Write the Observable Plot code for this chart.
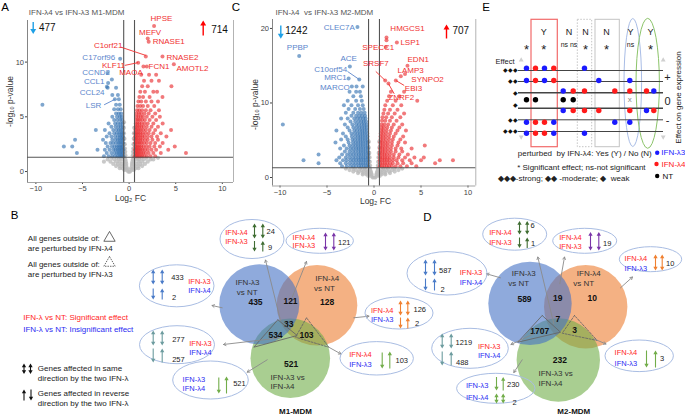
<!DOCTYPE html>
<html><head><meta charset="utf-8">
<script src="https://cdn.jsdelivr.net/npm/d3@7"></script>
<script src="https://cdn.jsdelivr.net/npm/@observablehq/plot@0.6"></script>
<style>
html,body{margin:0;padding:0;background:#fff;}
#wrap{position:relative;width:685px;height:415px;overflow:hidden;}
.layer{position:absolute;}
</style></head><body><div id="wrap"></div>
<script>
// ================= DATA =================
const xTicks = [-10, -5, 0, 5, 10];
const yTicksA = [0, 5, 10];
const yTicksC = [0, 10, 20];
const fcCut = 0.58, pCut = 1.3;
const countsA = [477, 714];
const countsC = [1242, 707];
const titles = ["IFN-λ4 vs IFN-λ3 M1-MDM", "IFN-λ4  vs IFN-λ3 M2-MDM"];

// volcano A: rows of [-log10 p, [log2FC ...]]
const grayA = [
[0.0,[-0.1,0.0,0.1]],[0.15,[-0.5,-0.25,0.25,0.5]],
[0.3,[-1.0,-0.7,-0.4,-0.2,0.2,0.4,0.7,1.0]],[0.5,[-1.4,-1.0,-0.6,-0.3,0.3,0.6,1.0,1.4]],
[0.7,[-1.7,-1.2,-0.8,-0.45,-0.3,0.3,0.45,0.8,1.2,1.7]],[0.9,[-2.7,-2.0,-1.4,-1.0,-0.5,-0.35,0.35,0.5,1.0,1.4,2.0]],
[1.1,[-2.3,-1.6,-1.1,-0.7,-0.4,0.4,0.7,1.1,1.6,2.3,2.6]],[1.25,[-1.9,-1.3,-0.9,-0.5,0.5,0.9,1.3,1.9,3.1]],
[1.5,[-0.5,-0.4,0.4,0.5]],[1.8,[-0.52,-0.42,0.42,0.52]],[2.1,[-0.55,-0.45,0.45,0.55]],
[2.5,[-0.55,-0.47,0.47,0.55]],[3.0,[-0.56,-0.5,0.5,0.56]],[3.5,[-0.55,0.52,0.56]],[4.0,[-0.56,0.55]],[4.5,[-0.55]]];
const blueA = [
[1.4,[-0.62,-0.75,-0.9,-1.05,-1.25,-1.5,-1.8,-2.2,-2.7]],
[1.7,[-0.65,-0.8,-0.95,-1.12,-1.3,-1.55,-1.9,-2.4,-5.6]],
[2.0,[-0.62,-0.78,-0.92,-1.08,-1.25,-1.45,-1.7,-2.1,-2.6,-3.39]],
[2.3,[-0.66,-0.8,-0.95,-1.12,-1.3,-1.55,-1.85,-2.3,-7.0,-6.1]],
[2.6,[-0.64,-0.8,-0.98,-1.15,-1.4,-1.7,-2.0,-2.5]],
[2.9,[-0.66,-0.82,-1.0,-1.2,-1.45,-1.8,-2.8,-5.8]],
[3.2,[-0.65,-0.8,-0.98,-1.2,-1.5,-1.9,-2.4]],
[3.5,[-0.68,-0.85,-1.05,-1.3,-1.6,-2.1]],
[3.8,[-0.7,-0.88,-1.1,-1.35,-1.7,-2.6,-3.57]],
[4.1,[-0.7,-0.9,-1.15,-1.45,-1.9]],[4.4,[-0.72,-0.92,-1.2,-1.5,-2.2]],
[4.7,[-0.75,-0.95,-1.25,-1.6]],[5.0,[-0.8,-1.0,-1.3,-1.8]],[5.3,[-0.85,-1.1,-1.4]],
[5.7,[-0.9,-1.2,-1.6]],[6.1,[-1.0,-1.4,-9.3]],[6.6,[-1.1,-1.53]],[7.0,[-1.2,-1.8]],
[7.65,[-2.3,-1.4]],[7.75,[-2.39]],[8.1,[-2.25]],[8.4,[-1.85]],[9.0,[-2.3]],[10.3,[-0.96]]];
const redA = [
[1.4,[0.62,0.75,0.9,1.05,1.2,1.4,1.6,1.9,2.3,2.8]],
[1.7,[0.65,0.8,0.95,1.1,1.3,1.5,1.75,2.1,2.6,3.4,6.1]],
[2.0,[0.62,0.78,0.92,1.08,1.25,1.45,1.7,2.0,2.4,2.9,4.2]],
[2.3,[0.66,0.8,0.95,1.12,1.3,1.55,1.85,2.2,2.7,3.3,4.9]],
[2.6,[0.64,0.8,0.98,1.15,1.35,1.6,1.9,2.3,2.8,3.6]],
[2.9,[0.66,0.82,1.0,1.2,1.4,1.7,2.0,2.5,3.1]],
[3.2,[0.65,0.8,0.98,1.18,1.4,1.65,2.0,2.4,3.0,4.0]],
[3.5,[0.68,0.85,1.02,1.22,1.45,1.75,2.1,2.6,3.4]],
[3.8,[0.68,0.85,1.05,1.25,1.5,1.8,2.2,2.8,4.5]],
[4.1,[0.7,0.88,1.08,1.3,1.55,1.9,2.4,3.1]],
[4.4,[0.72,0.9,1.1,1.35,1.65,2.0,2.6,3.6]],
[4.7,[0.75,0.95,1.15,1.4,1.7,2.2,2.9]],
[5.0,[0.78,1.0,1.25,1.5,1.9,2.5,3.3]],
[5.3,[0.8,1.05,1.3,1.65,2.1,2.8]],
[5.6,[0.85,1.1,1.4,1.8,2.3,3.2]],
[6.0,[0.9,1.2,1.5,2.0,2.7]],[6.4,[1.0,1.3,1.8,2.4,3.1]],[6.8,[1.1,1.5,2.2,3.58]],
[7.3,[1.2,1.7,2.6,3.0]],[7.8,[1.4,2.0,4.54]],[8.3,[1.6,2.4,3.2]],[8.85,[1.3,2.14,2.9]],
[9.6,[1.54,1.9]],[9.8,[4.8]],[9.95,[0.97]],[10.5,[1.79,3.58]],[11.85,[2.1]],[12.15,[2.0]],[13.3,[2.68]]];

// volcano C
const grayC = [
[0.0,[-0.15,0,0.15]],[0.2,[-0.6,-0.3,0.3,0.6]],
[0.4,[-1.2,-0.8,-0.45,-0.25,0.25,0.45,0.8,1.2]],
[0.6,[-1.7,-1.2,-0.8,-0.5,-0.3,0.3,0.5,0.8,1.2,1.7]],
[0.8,[-2.2,-1.6,-1.1,-0.7,-0.35,0.35,0.7,1.1,1.6,2.2]],
[1.0,[-2.6,-1.9,-1.3,-0.85,-0.4,0.4,0.85,1.3,1.9,2.6]],
[1.2,[-3.0,-2.2,-1.5,-1.0,-0.45,0.45,1.0,1.5,2.2,3.0]],
[1.6,[-0.5,-0.42,0.42,0.5]],[2.1,[-0.52,-0.44,0.44,0.52]],[2.7,[-0.54,-0.47,0.47,0.54]],
[3.3,[-0.55,-0.5,0.5,0.55]],[4.0,[-0.56,0.56]],[4.8,[-0.55,0.55]]];
const blueC = [
[1.5,[-0.62,-0.85,-1.1,-1.35,-1.6,-1.9,-2.2,-2.5,-2.9,-3.4]],
[1.9,[-0.65,-0.9,-1.15,-1.4,-1.65,-1.95,-2.25,-2.6,-3.0,-3.6,-5.9]],
[2.3,[-0.62,-0.88,-1.12,-1.38,-1.62,-1.9,-2.2,-2.5,-2.9,-3.3,-4.0,-7.5]],
[2.7,[-0.65,-0.9,-1.15,-1.4,-1.65,-1.95,-2.25,-2.6,-3.0,-3.7]],
[3.1,[-0.62,-0.88,-1.12,-1.38,-1.62,-1.9,-2.2,-2.5,-2.85,-3.4,-5.9]],
[3.5,[-0.65,-0.9,-1.15,-1.4,-1.65,-1.95,-2.25,-2.6,-3.1]],
[3.9,[-0.65,-0.9,-1.15,-1.4,-1.65,-1.9,-2.2,-2.5,-2.9,-3.6]],
[4.3,[-0.68,-0.92,-1.18,-1.42,-1.68,-1.95,-2.25,-2.6,-3.2]],
[4.7,[-0.68,-0.92,-1.18,-1.42,-1.68,-1.95,-2.25,-2.7,-4.1]],
[5.1,[-0.7,-0.95,-1.2,-1.45,-1.7,-2.0,-2.3,-2.8,-3.5]],
[5.5,[-0.7,-0.95,-1.2,-1.45,-1.7,-2.0,-2.35,-3.0]],
[5.9,[-0.72,-0.98,-1.22,-1.48,-1.75,-2.05,-2.4,-3.3]],
[6.3,[-0.75,-1.0,-1.25,-1.5,-1.8,-2.1,-2.6,-4.0]],
[6.7,[-0.78,-1.02,-1.28,-1.55,-1.85,-2.2,-2.8]],
[7.1,[-0.8,-1.05,-1.3,-1.6,-1.9,-2.3,-3.1,-9.7]],
[7.5,[-0.85,-1.1,-1.35,-1.65,-2.0,-2.5]],
[7.9,[-0.9,-1.15,-1.45,-1.75,-2.1,-2.8,-3.5]],
[8.3,[-0.95,-1.25,-1.55,-1.9,-2.4]],[8.7,[-1.0,-1.35,-1.7,-2.2,-3.0]],
[9.2,[-1.1,-1.5,-2.0,-2.7]],[9.7,[-1.2,-1.7,-2.4,-3.2]],[10.3,[-1.3,-1.9,-2.8]],
[10.9,[-1.4,-2.2]],[11.5,[-1.5,-1.9,-2.6]],[12.2,[-1.2,-1.86,-2.36]],
[13.15,[-1.57]],[13.3,[-2.7]],[14.9,[-2.57]],[16.3,[-7.96]],[20.2,[-1.76]]];
const redC = [
[1.5,[0.62,0.85,1.1,1.35,1.6,1.9,2.3,2.8,3.5,4.5]],
[1.9,[0.65,0.9,1.15,1.4,1.7,2.0,2.5,3.1,4.0,6.5]],
[2.3,[0.62,0.88,1.12,1.38,1.65,2.0,2.4,3.0,3.8,5.0,7.0,8.4]],
[2.7,[0.65,0.9,1.15,1.4,1.7,2.1,2.6,3.3,4.3,5.3]],
[3.1,[0.62,0.88,1.12,1.38,1.7,2.1,2.7,3.6]],
[3.5,[0.65,0.9,1.15,1.45,1.8,2.3,3.0]],
[3.9,[0.65,0.9,1.15,1.45,1.8,2.3,2.9,4.0]],
[4.3,[0.68,0.92,1.2,1.5,1.9,2.5,5.4]],
[4.7,[0.68,0.92,1.2,1.5,1.9,2.6,3.3]],
[5.1,[0.7,0.95,1.25,1.6,2.0,2.8]],[5.5,[0.7,0.95,1.25,1.6,2.1,3.1]],
[5.9,[0.72,0.98,1.3,1.7,2.3]],[6.3,[0.75,1.0,1.35,1.8,2.5,3.4]],
[6.7,[0.78,1.05,1.4,1.9,2.7]],[7.1,[0.8,1.1,1.5,2.1,3.0]],[7.6,[0.85,1.2,1.7,2.4]],
[8.1,[0.9,1.3,1.9,2.8]],[8.6,[1.0,1.5,2.2,3.2]],[9.1,[1.1,1.7,2.5]],[9.7,[1.2,2.0,2.9]],
[10.3,[1.4,2.3,4.6]],[10.9,[1.6,2.7]],[11.5,[1.8,3.2]],[12.6,[1.54]],[13.0,[1.19,2.32]],
[13.6,[2.85]],[13.9,[3.3]],[15.0,[3.56]],[17.5,[1.26]],[18.1,[2.43]],[18.4,[1.33]],[18.8,[1.33]]];

// labelled genes: [gene, log2FC, -log10 p]
const genesA_up = [["HPSE",2.68,13.3],["MEFV",2.0,12.15],["RNASE1",2.1,11.85],["C1orf21",1.79,10.6],["RNASE2",3.58,10.5],["KLF11",0.97,9.95],["FCN1",1.54,9.55],["MAOA",2.14,8.85],["AMOTL2",4.8,9.8]];
const genesA_down = [["C17orf96",-0.96,10.3],["CCND2",-2.3,9.0],["CCL1",-2.25,8.1],["CCL24",-2.3,7.65],["LSR",-1.53,6.6]];
const genesC_up = [["HMGCS1",1.33,18.8],["LSP1",2.43,18.1],["SPECC1",1.26,17.5],["EDN1",3.56,15.0],["SRSF7",1.19,13.0],["LAMP3",2.85,13.6],["SYNPO2",3.3,13.9],["EBI3",2.32,13.0],["ZNRF2",1.54,12.6]];
const genesC_down = [["CLEC7A",-1.76,20.2],["PPBP",-7.96,16.3],["ACE",-2.57,14.9],["C10orf54",-1.57,13.15],["MRC1",-2.7,13.3],["MARCO",-2.36,12.3]];

// Venn counts (λ3 vs NT only, λ3∩λ4 vs NT, λ4 vs NT only, all three, λ3 vs NT ∩ λ3 vs λ4, λ4 vs NT ∩ λ3 vs λ4, λ3 vs λ4 only)
const vennB_counts = [435, 121, 128, 33, 534, 103, 521];
const vennD_counts = [589, 19, 10, 7, 1707, 3, 232];
const vennNames = ["IFN-λ3 vs NT", "IFN-λ4 vs NT", "IFN-λ3 vs IFN-λ4"];
// callout counts (same-direction / reverse-direction)
const calloutB_counts = [[24, 9], [121], [433, 2], [277, 257], [521], [126, 2], [103]];
const calloutD_counts = [[6, 1], [19], [10], [587, 2], [1219, 488], [230, 2], [3]];

// Panel E schematic: [column, effect level, group]
const eLevels = [3, 2, 1, 0, -1, -2, -3];
const eDots = [
[0,3,"IFN-λ3"],[0,2,"IFN-λ3"],[0,0,"NT"],[0,-2,"IFN-λ3"],[0,-3,"IFN-λ3"],
[1,3,"IFN-λ4"],[1,2,"IFN-λ4"],[1,0,"NT"],[1,-2,"IFN-λ4"],[1,-3,"IFN-λ4"],
[2,3,"IFN-λ3"],[2,2,"IFN-λ3"],[2,-2,"IFN-λ4"],[2,-3,"IFN-λ4"],
[3,3,"IFN-λ4"],[3,2,"IFN-λ4"],[3,-2,"IFN-λ3"],[3,-3,"IFN-λ3"],
[4,1,"IFN-λ3"],[4,0,"NT"],[4,-1,"IFN-λ3"],
[5,1,"IFN-λ4"],[5,0,"NT"],[5,-1,"IFN-λ4"],
[6,3,"IFN-λ3"],[6,1,"IFN-λ4"],[6,-1,"IFN-λ4"],[6,-3,"IFN-λ3"],
[7,2,"IFN-λ3"],[7,-1,"IFN-λ4"],
[8,1,"IFN-λ4"],[8,-2,"IFN-λ3"],
[9,2,"IFN-λ3"],[9,1,"IFN-λ4"],[9,-1,"IFN-λ4"],[9,-2,"IFN-λ3"],
[10,1,"IFN-λ4"],[10,-1,"IFN-λ3"],
[11,1,"IFN-λ3"],[11,-1,"IFN-λ4"]];
const eNoEffect = [[9, 0, "x"]];
const eHeaders = [["*",""],["Y","*"],["N","ns ns"],["N","*"],["N","*"],["Y","ns"],["Y","*"]];
const eGroups = ["IFN-λ3", "IFN-λ4", "NT"];

// ================= LAYOUT & STYLE =================
const FONT = "Liberation Sans, Arial, sans-serif";
const RED = "#ff2626", BLUE = "#2b2bf2", GRED = "#f03030", GBLUE = "#5b86cc";
const DG = "#3f6d32", PU = "#7a35a8", BL = "#4a7bc8", TE = "#6d9c9f", GR = "#72ad4a", OR = "#f08030";
const groupColor = {"IFN-λ3": "#1a1aff", "IFN-λ4": "#ff1a1a", "NT": "#000"};

const flat = rows => rows.flatMap(([p, xs]) => xs.map(fc => ({fc, p})));

function volcano(cfg) {
  return Plot.plot({
    width: 240, height: 205,
    marginLeft: cfg.ml, marginRight: cfg.mr, marginTop: cfg.mt, marginBottom: cfg.mb,
    style: {fontFamily: FONT, fontSize: "7.5px", color: "#444", background: "transparent", overflow: "visible"},
    x: {domain: cfg.xDom, ticks: xTicks, tickSize: 2, tickPadding: 1.5, label: null},
    y: {domain: cfg.yDom, ticks: cfg.yTicks, tickSize: 2, tickPadding: 1.5, label: null},
    marks: [
      Plot.ruleX([cfg.xDom[0]], {stroke: "#777", strokeWidth: 0.9}),
      Plot.ruleX([cfg.xDom[1]], {stroke: "#aaa", strokeWidth: 0.9}),
      Plot.ruleY([cfg.yDom[0]], {stroke: "#999", strokeWidth: 0.9}),
      Plot.dot(flat(cfg.gray), {x: "fc", y: "p", r: 2.1, fill: "#bcbcbc", fillOpacity: 0.8}),
      Plot.dot(flat(cfg.blue), {x: "fc", y: "p", r: 2.0, fill: "#3070b0", fillOpacity: 0.62}),
      Plot.dot(flat(cfg.red), {x: "fc", y: "p", r: 2.0, fill: "#e8262a", fillOpacity: 0.62}),
      Plot.ruleX([-fcCut, fcCut], {stroke: "#555", strokeWidth: 1.1}),
      Plot.ruleY([pCut], {stroke: "#555", strokeWidth: 1.1}),
      Plot.link(cfg.links, {x1: d => d[0], y1: d => d[1], x2: d => d[2], y2: d => d[3], stroke: d => d[4], strokeWidth: 0.9}),
      Plot.text(cfg.up, {x: (d, i) => cfg.upPos[i][0], y: (d, i) => cfg.upPos[i][1], text: d => d[0], fill: GRED, fontSize: 8}),
      Plot.text(cfg.down, {x: (d, i) => cfg.downPos[i][0], y: (d, i) => cfg.downPos[i][1], text: d => d[0], fill: GBLUE, fontSize: 8})
    ]
  });
}

const volA = volcano({
  ml: 27, mr: 7, mt: 20, mb: 23, xDom: [-10.9, 11.2], yDom: [-1.0, 13.8], yTicks: yTicksA,
  gray: grayA, blue: blueA, red: redA, up: genesA_up, down: genesA_down,
  upPos: [[3.47,13.97],[2.25,12.75],[4.25,11.9],[-2.25,11.5],[5.72,10.46],[-1.68,9.7],[3.2,9.64],[0.2,9.03],[6.8,9.4]],
  downPos: [[-3.25,10.46],[-3.54,9.03],[-3.75,8.23],[-3.97,7.26],[-3.82,6.04]],
  links: [[-0.89,11.37,1.79,10.61,GRED],[-0.46,9.7,0.96,9.95,GRED],[-2.68,6.1,-1.53,6.59,GBLUE]]
});
const volC = volcano({
  ml: 27, mr: 9.7, mt: 19, mb: 19.5, xDom: [-10.8, 10.83], yDom: [-1.14, 21.2], yTicks: yTicksC,
  gray: grayC, blue: blueC, red: redC, up: genesC_up, down: genesC_down,
  upPos: [[3.56,20.0],[3.85,18.1],[0.45,17.4],[4.7,15.9],[0.2,15.3],[3.9,14.3],[5.7,13.2],[4.2,11.9],[2.9,10.7]],
  downPos: [[-3.7,20.2],[-8.14,17.5],[-2.7,16.0],[-4.6,14.5],[-4.1,13.4],[-4.17,12.1]],
  links: [[-2.82,14.23,-1.57,13.15,GBLUE],[0.19,14.23,1.19,13.02,GRED],[3.21,12.35,2.32,13.02,GRED],[2.15,11.23,1.54,12.58,GRED]]
});

// ---- overlay layout (pixel space) ----
const eColX = [526,535,544,553.3,562.7,572.7,584,598.3,614.3,629.3,646,653.3];
const eHeadX = [526,543.3,568.5,585,606,630,650];
const eLevelY = [67.7,80,90.5,99.3,110,121.7,132.7];
const eLineY = [70,81,92.3,107.7,119.3,131];
const eLineW = [1,1,1.6,1.6,1,1];

const vennB = [{cx:317,cy:305.3,r:40.3,c:"#ed7d31"},{cx:290.3,cy:358.3,r:39.8,c:"#70ad47"},{cx:259.3,cy:304.3,r:40,c:"#4472c4"}];
const vennD = [{cx:585.7,cy:306.7,r:41.7,c:"#ed7d31"},{cx:558.3,cy:360,r:41.7,c:"#70ad47"},{cx:530,cy:303.4,r:41.7,c:"#4472c4"}];
const vennB_pos = [[255,301.7],[290,300.7],[326.7,301.7],[288.3,323.3],[275,335],[306,335],[290.7,363.3]];
const vennD_pos = [[524,298.3],[557.3,297.3],[591.7,297.3],[557.3,318.3],[539.3,330.7],[574,329.3],[559.3,359.3]];
const vennB_namePos = [[[247,281.7],[246.7,291.7]],[[326.7,278.3],[324,288.3]],[[270,376.7],[270,386]]];
const vennD_namePos = [[[523.3,273.3],[518.3,283.3]],[[588.3,272.7],[583.3,283.3]],[[538,373.3],[538,382.7]]];

const calloutsB = [
 {cx:252,cy:239,rx:32,ry:19.5, labels:[[236,232.3,"IFN-λ4",RED],[236,240.7,"IFN-λ3",RED]], nums:[[266,230.7],[267.5,246.7]],
  glyphs:[[254,223,238,"both",DG],[262.3,223,238,"both",DG],[254,240.5,251,"down",DG],[262.3,240.5,251,"up",DG]]},
 {cx:319.7,cy:240.8,rx:33.7,ry:12.5, labels:[[303.3,236.8,"IFN-λ4",RED],[303.3,245.5,"IFN-λ3",RED]], nums:[[337.5,242.5]],
  glyphs:[[325,232,250,"both",PU],[333.3,232,250,"both",PU]]},
 {cx:176.7,cy:285.8,rx:37.3,ry:21, labels:[[199,280.7,"IFN-λ3",RED],[199,290,"IFN-λ4",BLUE]], nums:[[170.7,277.3],[171.5,297.3]],
  glyphs:[[152.7,269,284,"both",BL],[161.7,269,284,"both",BL],[152.7,288,299,"down",BL],[161.7,288,299,"up",BL]]},
 {cx:177,cy:344.7,rx:37.5,ry:19, labels:[[200,343.3,"IFN-λ3",RED],[200,352.3,"IFN-λ4",BLUE]], nums:[[171.7,339.3],[171.7,359.3]],
  glyphs:[[152.7,330,345,"both",TE],[161.7,330,345,"both",TE],[152.7,348,362,"down",TE],[161.7,348,362,"up",TE]]},
 {cx:210.5,cy:380,rx:37.8,ry:19, labels:[[193.3,379,"IFN-λ3",BLUE],[193.3,388.3,"IFN-λ4",BLUE]], nums:[[232.7,383.3]],
  glyphs:[[218.3,377,393,"down",GR],[226,376,393,"up",GR]]},
 {cx:399,cy:313,rx:34,ry:16, labels:[[381.7,310.5,"IFN-λ4",RED],[381.7,319.5,"IFN-λ3",BLUE]], nums:[[413,309.5],[414.5,323.5]],
  glyphs:[[400,300,315,"both",OR],[407.3,300,315,"both",OR],[400,317,328,"down",OR],[407.3,317,328,"up",OR]]},
 {cx:376.7,cy:358.3,rx:36.7,ry:16.7, labels:[[360,354,"IFN-λ4",RED],[360,364,"IFN-λ3",BLUE]], nums:[[395,360]],
  glyphs:[[381.7,352,368,"down",GR],[389.3,351,368,"up",GR]]}];
const calloutsD = [
 {cx:514.7,cy:234.2,rx:32,ry:16, labels:[[500,231.7,"IFN-λ4",RED],[500,241.7,"IFN-λ3",RED]], nums:[[530,225.5],[530.5,243]],
  glyphs:[[519,220.5,234,"both",DG],[526.7,220.5,234,"both",DG],[519,237,247.5,"down",DG],[526.7,237,247.5,"up",DG]]},
 {cx:584.7,cy:240.8,rx:32,ry:12.5, labels:[[570,236.7,"IFN-λ4",RED],[570,246.2,"IFN-λ3",RED]], nums:[[602.5,242.7]],
  glyphs:[[590,231.5,250,"both",PU],[598.3,231.5,250,"both",PU]]},
 {cx:650.5,cy:259.2,rx:31.2,ry:12.5, labels:[[635.3,258.3,"IFN-λ4",RED],[635.3,268,"IFN-λ3",BLUE]], nums:[[665.5,262.7]],
  glyphs:[[655,254,270,"both",OR],[661.7,254,270,"both",OR]]},
 {cx:447,cy:273.3,rx:40,ry:21.7, labels:[[470.5,271.7,"IFN-λ3",RED],[470.5,281.7,"IFN-λ4",BLUE]], nums:[[438.5,270],[440,289.3]],
  glyphs:[[425,259,275,"both",BL],[434,259,275,"both",BL],[425,278,290,"down",BL],[434,278,290,"up",BL]]},
 {cx:470,cy:348.3,rx:38.3,ry:20, labels:[[488.7,346,"IFN-λ3",RED],[488.7,355,"IFN-λ4",BLUE]], nums:[[455,341.7],[455.5,361.7]],
  glyphs:[[441.7,333,348,"both",TE],[450.7,333,348,"both",TE],[441.7,351,365,"down",TE],[450.7,351,365,"up",TE]]},
 {cx:495.8,cy:388.3,rx:39.2,ry:15, labels:[[476.7,385,"IFN-λ3",BLUE],[476.7,396.7,"IFN-λ4",BLUE]], nums:[[506.5,384.3],[512,401.7]],
  glyphs:[[496,376.5,390,"down",GR],[502.7,376.5,390,"up",GR],[496,393,403,"both",GR],[502.7,393,403,"both",GR]]},
 {cx:639.2,cy:355.8,rx:34.2,ry:15.8, labels:[[625.3,351.7,"IFN-λ4",RED],[625.3,362.7,"IFN-λ3",BLUE]], nums:[[659.5,358.3]],
  glyphs:[[646,350,367,"down",GR],[655,350,367,"up",GR]]}];

const arrowsVenn = [
 [280,320,265,259.5],[291.7,296.7,306,261],[221.7,307.3,211.5,305],[280,337.3,223,344],[266.7,359.3,246.7,371.7],[353.3,317.3,368.5,315.7],[328.3,346.7,340.5,353.5],
 [500,277.3,486,273.3],[553.3,323.3,537.3,256.5],[559.3,283.3,564,256.5],[620,287.3,632,276.5],[533.3,333.3,510.5,344],[521.7,359.3,513.3,372],[593.3,338.3,605.5,343.5]];
const trianglesSolid = [[[277.3,319.3],[253.3,346.7],[296.7,335]],[[541.7,315],[517.3,341.7],[560,331.7]]];
const trianglesDashed = [[[306,317.3],[295,336.7],[328.3,346.7]],[[574,315],[561.7,332.7],[596.7,340]]];

const countGlyphs = [[32.7,21.5,33.5,"down","#1ea0e6"],[202.7,20,35,"up","#ff0000"],[280.3,25,38.3,"down","#1ea0e6"],[446,24,38,"up","#ff0000"]];
const legendGlyphs = [[23.5,363,373.5,"both","#111"],[30,363,373.5,"both","#111"],[23.5,389,400,"up","#111"],[30.5,389,400,"down","#111"]];

function glyphMarks(gl, w = 1.1, hr = 1.6) {
  return [
    Plot.link(gl, {x1: d => d[0], x2: d => d[0], y1: d => d[1] + (d[3] !== "down" ? hr : 0), y2: d => d[2] - (d[3] !== "up" ? hr : 0), stroke: d => d[4], strokeWidth: w}),
    Plot.dot(gl.filter(d => d[3] !== "down"), {x: d => d[0], y: d => d[1] + hr * 1.55, symbol: "triangle", r: hr, fill: d => d[4]}),
    Plot.dot(gl.filter(d => d[3] !== "up"), {x: d => d[0], y: d => d[2] - hr * 1.55, symbol: "triangle", r: hr, rotate: 180, fill: d => d[4]})
  ];
}
const T = (arr, o) => Plot.text(arr, {x: d => d[0], y: d => d[1], text: d => d[2], ...o});
const ell = (e, o) => Plot.rect([e], {x1: d => d.cx - d.rx, x2: d => d.cx + d.rx, y1: d => d.cy - d.ry, y2: d => d.cy + d.ry, rx: e.rx, ry: e.ry, ...o});
const circ = (c, o) => Plot.rect([c], {x1: d => d.cx - d.r, x2: d => d.cx + d.r, y1: d => d.cy - d.r, y2: d => d.cy + d.r, rx: c.r, ry: c.r, fill: c.c, ...o});
const triRows = tris => tris.flatMap((t, i) => [...t, t[0]].map(p => ({z: i, x: p[0], y: p[1]})));

const calloutMarks = (callouts, counts) => [
  ...callouts.map(e => ell(e, {fill: "white", fillOpacity: 0, stroke: "#a9bde3", strokeWidth: 1})),
  Plot.text(callouts.flatMap(e => e.labels), {x: d => d[0], y: d => d[1], text: d => d[2], fill: d => d[3], fontSize: 7.5}),
  Plot.text(callouts.flatMap((e, i) => e.nums.map((p, j) => [p[0], p[1], String(counts[i][j])])), {x: d => d[0], y: d => d[1], text: d => d[2], fill: "#222", fontSize: 7.5, textAnchor: "start"}),
  ...glyphMarks(callouts.flatMap(e => e.glyphs))
];

const vennMarks = (circles, counts, pos, namePos, title, titleX) => [
  ...circles.map(c => circ(c, {fillOpacity: 0.6})),
  Plot.text(counts, {x: (d, i) => pos[i][0], y: (d, i) => pos[i][1], text: d => String(d), fontSize: 8.5, fontWeight: "bold", fill: "#111"}),
  Plot.text([0, 1].flatMap(k => [[namePos[k][0], "IFN-" + vennNames[k].slice(4, 6)], [namePos[k][1], "vs NT"]]),
    {x: d => d[0][0], y: d => d[0][1], text: d => d[1], fontSize: 8, fill: "#333"}),
  Plot.text([[namePos[2][0], "IFN-λ3 vs"], [namePos[2][1], "IFN-λ4"]],
    {x: d => d[0][0], y: d => d[0][1], text: d => d[1], fontSize: 8, fill: "#333", textAnchor: "start"}),
  Plot.text([title], {x: titleX, y: 410.7, text: d => d, fontSize: 8, fontWeight: "bold", fill: "#111"})
];

const overlay = Plot.plot({
  width: 685, height: 415, margin: 0,
  x: {type: "linear", domain: [0, 685], range: [0, 685], axis: null},
  y: {type: "linear", domain: [0, 415], range: [0, 415], axis: null},
  color: {type: "identity"},
  style: {fontFamily: FONT, background: "transparent", overflow: "visible"},
  marks: [
    // panel letters & volcano titles/annotations
    T([[4.5,6.8,"A"],[235.5,6.8,"C"],[485.5,6.8,"E"],[14,215,"B"],[427,216.7,"D"]], {fontSize: 11.5, fill: "#000"}),
    T([[28.3,11.7,titles[0]],[275,11.7,titles[1]]], {fontSize: 8, fill: "#555", textAnchor: "start"}),
    T([[38.5,27.7,String(countsA[0])],[210.7,29,String(countsA[1])],[284.7,30,String(countsC[0])],[452,30,String(countsC[1])]], {fontSize: 10, fill: "#111", textAnchor: "start"}),
    ...glyphMarks(countGlyphs, 1.4, 2.2),
    T([[130,197.5,"Log₂ FC"],[375,201,"Log₂ FC"]], {fontSize: 8.5, fill: "#333"}),
    T([[10,101,"-log₁₀ p-value"],[255,104,"-log₁₀ p-value"]], {fontSize: 8.5, fill: "#333", rotate: -90}),

    // ---- panel E ----
    Plot.rect([0], {x1: 531, x2: 557.3, y1: 19.3, y2: 146.7, fill: "none", stroke: "#f26a6a", strokeWidth: 1.2}),
    Plot.rect([0], {x1: 577.3, x2: 591.7, y1: 19.3, y2: 146.7, fill: "none", stroke: "#c4c4c4", strokeWidth: 1, strokeDasharray: "1.5,1.5"}),
    Plot.rect([0], {x1: 595, x2: 619.3, y1: 19.3, y2: 146.7, fill: "none", stroke: "#c4c4c4", strokeWidth: 1}),
    ell({cx: 632.8, cy: 82.5, rx: 8.8, ry: 64}, {fill: "none", stroke: "#a9bde6", strokeWidth: 1}),
    ell({cx: 647.7, cy: 83.3, rx: 11.7, ry: 65}, {fill: "none", stroke: "#8cc46a", strokeWidth: 1}),
    Plot.ruleY(eLineY, {x1: 518, x2: 663, stroke: "#444", strokeWidth: (d, i) => eLineW[i]}),
    Plot.dot(eDots, {x: d => eColX[d[0]], y: d => eLevelY[eLevels.indexOf(d[1])], r: 2.7, fill: d => groupColor[d[2]]}),
    Plot.text(eNoEffect, {x: d => eColX[d[0]], y: d => eLevelY[eLevels.indexOf(d[1])], text: d => d[2], fontSize: 8, fill: "#888"}),
    Plot.text(eHeaders, {x: (d, i) => eHeadX[i], y: 31.7, text: d => d[0] === "*" ? "" : d[0], fontSize: 9, fill: "#222"}),
    Plot.text(eHeaders.map((d, i) => [eHeadX[i], d[0] === "*" ? "*" : d[1]]), {x: d => d[0], y: d => d[1] === "*" ? 49.5 : 44, text: d => d[1], fontSize: d => d[1] === "*" ? 13 : 7, fontWeight: d => d[1] === "*" ? "bold" : "normal", fill: "#222"}),
    Plot.dot([[520.7,59.5,0],[662.7,59.5,0],[520.7,136.5,180],[662.7,136.5,180]], {x: d => d[0], y: d => d[1], rotate: d => d[2], symbol: "triangle", r: 1.8, fill: "#d0d0d0"}),
    T([[504.5,61,"Effect"]], {fontSize: 7.5, fill: "#222"}),
    T([[517,70,"◆◆◆"],[517,81,"◆◆"],[517,92.3,"◆"],[517,105,"◆"],[517,119.3,"◆◆"],[517,131,"◆◆◆"]], {fontSize: 6, fill: "#111", textAnchor: "end"}),
    T([[667,77,"+"],[667,101,"0"],[667,120,"-"]], {fontSize: 11, fill: "#222"}),
    T([[678,97,"Effect on gene expression"]], {fontSize: 8, fill: "#222", rotate: -90}),
    T([[517.3,153.3,"perturbed  by IFN-λ4: Yes (Y) / No (N)"],[516.7,166.7,"* Significant effect; ns-not significant"],[497.3,178.3,"◆◆◆-strong; ◆◆ -moderate; ◆  weak"]], {fontSize: 8, fill: "#222", textAnchor: "start"}),
    Plot.dot(eGroups, {x: (d, i) => [656.7, 656, 656.7][i], y: (d, i) => [152.3, 163.5, 175.5][i], r: 2.2, fill: d => groupColor[d]}),
    Plot.text(eGroups, {x: (d, i) => [660.8, 661, 662][i], y: (d, i) => [152.3, 164, 176][i], text: d => d, fill: d => d === "NT" ? "#111" : groupColor[d], fontSize: 8, textAnchor: "start"}),

    // ---- panel B legend ----
    T([[27.3,238.3,"All genes outside of:"],[27.3,248.3,"are perturbed by IFN-λ4"],[27.3,264,"All genes outside of:"],[27.3,274,"are perturbed by IFN-λ3"],
       [37.3,367.7,"Genes affected in same"],[37.3,377.7,"direction by the two IFN-λ"],[37.3,393.3,"Genes affected in reverse"],[37.3,402.7,"direction by the two IFN-λ"]],
      {fontSize: 8, fill: "#222", textAnchor: "start"}),
    Plot.dot([[109,237.5]], {x: d => d[0], y: d => d[1], symbol: "triangle", r: 4.2, fill: "none", stroke: "#444", strokeWidth: 0.8}),
    Plot.dot([[109,262.5]], {x: d => d[0], y: d => d[1], symbol: "triangle", r: 4.2, fill: "none", stroke: "#444", strokeWidth: 0.8, strokeDasharray: "1.5,1"}),
    T([[22.7,316.7,"IFN-λ vs NT: Significant effect"]], {fontSize: 8, fill: RED, textAnchor: "start"}),
    T([[22.7,329.3,"IFN-λ vs NT: Insignificant effect"]], {fontSize: 8, fill: BLUE, textAnchor: "start"}),
    ...glyphMarks(legendGlyphs, 1.1, 1.6),

    // ---- Venn B & D ----
    ...vennMarks(vennB, vennB_counts, vennB_pos, vennB_namePos, "M1-MDM", 295),
    ...vennMarks(vennD, vennD_counts, vennD_pos, vennD_namePos, "M2-MDM", 573.3),
    Plot.line(triRows(trianglesSolid), {x: "x", y: "y", z: "z", stroke: "#666", strokeWidth: 0.9}),
    Plot.line(triRows(trianglesDashed), {x: "x", y: "y", z: "z", stroke: "#666", strokeWidth: 0.9, strokeDasharray: "2,1.5"}),
    Plot.arrow(arrowsVenn, {x1: d => d[0], y1: d => d[1], x2: d => d[2], y2: d => d[3], stroke: "#8a8a8a", strokeWidth: 0.9, headLength: 4.5}),
    ...calloutMarks(calloutsB, calloutB_counts),
    ...calloutMarks(calloutsD, calloutD_counts)
  ]
});

const wrap = document.getElementById("wrap");
function place(node, left, top) {
  const d = document.createElement("div");
  d.className = "layer"; d.style.left = left + "px"; d.style.top = top + "px";
  d.appendChild(node); wrap.appendChild(d); return d;
}
place(volA, 0, 0);
place(volC, 245, 0);
const ov = place(overlay, 0, 0);
ov.style.pointerEvents = "none";
</script>
</body></html>
